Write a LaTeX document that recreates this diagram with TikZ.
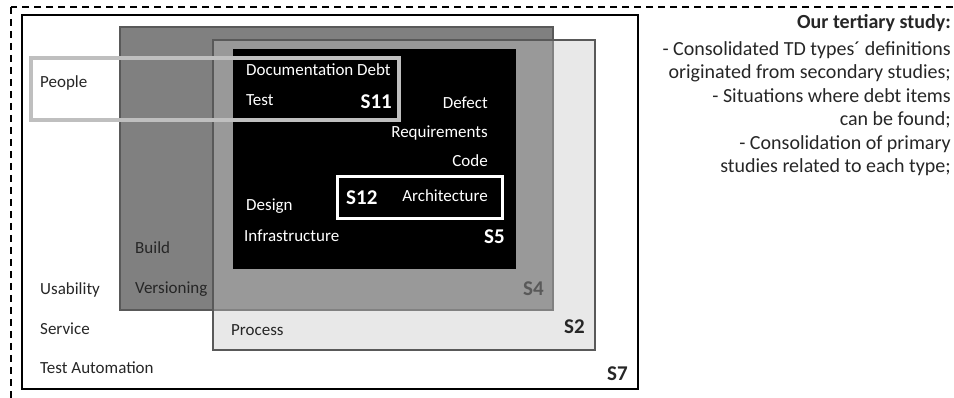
\documentclass[tikz,border=0pt]{standalone}
\usepackage{fontspec}
\setmainfont{Carlito}
\definecolor{txt}{HTML}{262626}
\definecolor{edge}{HTML}{595959}
\definecolor{sfourfill}{HTML}{808080}
\definecolor{stwofill}{HTML}{C3C3C3}
\definecolor{pplgray}{HTML}{BFBFBF}

\begin{document}
\begin{tikzpicture}[x=1pt, y=-1pt,
  every node/.style={font=\fontsize{17}{20}\selectfont, inner sep=0pt, text=txt},
  slabel/.style={font=\fontsize{21}{24}\selectfont\bfseries},
  inblack/.style={text=white}]
\useasboundingbox (0,0) rectangle (954,398);
% --- frames ---
\draw[line width=1.5pt, dash pattern=on 7pt off 5pt] (11,7) rectangle (975,420);
\draw[line width=2pt] (22,15) rectangle (638,389);
% --- S4 and S2 ---
\draw[fill=sfourfill, draw=edge, line width=1.5pt] (120,27) rectangle (553,310);
\draw[fill=stwofill, fill opacity=0.38, draw=edge, line width=1.5pt] (213,40) rectangle (595,350);
% --- S5 ---
\fill[black] (233,49) rectangle (516,269);
% --- S11 and S12 ---
\draw[pplgray, line width=4pt] (31,58) rectangle (399,120);
\draw[white, line width=3pt] (337,177) rectangle (502,219);
% --- S7 ---
\node[anchor=west] (people)  at (40,83)  {People};
\node[anchor=west] (usab)    at (40,290) {Usability};
\node[anchor=west] (serv)    at (40,329) {Service};
\node[anchor=west] (testaut) at (40,368) {Test Automation};
\node[slabel, anchor=east] (s7) at (628,374) {S7};
% --- S4 ---
\node[anchor=west] (build) at (135,248) {Build};
\node[anchor=west] (vers)  at (135,289) {Versioning};
\node[slabel, anchor=east, text=edge] (s4) at (544,289) {S4};
% --- S2 ---
\node[anchor=west] (proc) at (231,330) {Process};
\node[slabel, anchor=east] (s2) at (585,327) {S2};
% --- S5 ---
\node[inblack, anchor=west] (docdebt) at (246,70)  {Documentation Debt};
\node[inblack, anchor=west] (test)    at (246,100) {Test};
\node[inblack, slabel, anchor=east] (s11) at (392,102) {S11};
\node[inblack, anchor=east] (defect)  at (488,103) {Defect};
\node[inblack, anchor=east] (req)     at (488,133) {Requirements};
\node[inblack, anchor=east] (code)    at (488,161) {Code};
\node[inblack, slabel, anchor=west] (s12) at (346,198) {S12};
\node[inblack, anchor=east] (arch)    at (488,196) {Architecture};
\node[inblack, anchor=west] (design)  at (246,206) {Design};
\node[inblack, anchor=west] (infra)   at (244,236) {Infrastructure};
\node[inblack, slabel, anchor=east] (s5) at (505,237) {S5};
% --- our study ---
\node[anchor=east, font=\fontsize{20}{22}\selectfont\bfseries] (title) at (951,23) {Our tertiary study:};
\node[anchor=north east, align=right, font=\fontsize{20}{23.5}\selectfont] (body) at (951,41)
  {- Consolidated TD types´ definitions\\
   originated from secondary studies;\\
   - Situations where debt items\\
   can be found;\\
   - Consolidation of primary\\
   studies related to each type;};
\end{tikzpicture}
\end{document}
